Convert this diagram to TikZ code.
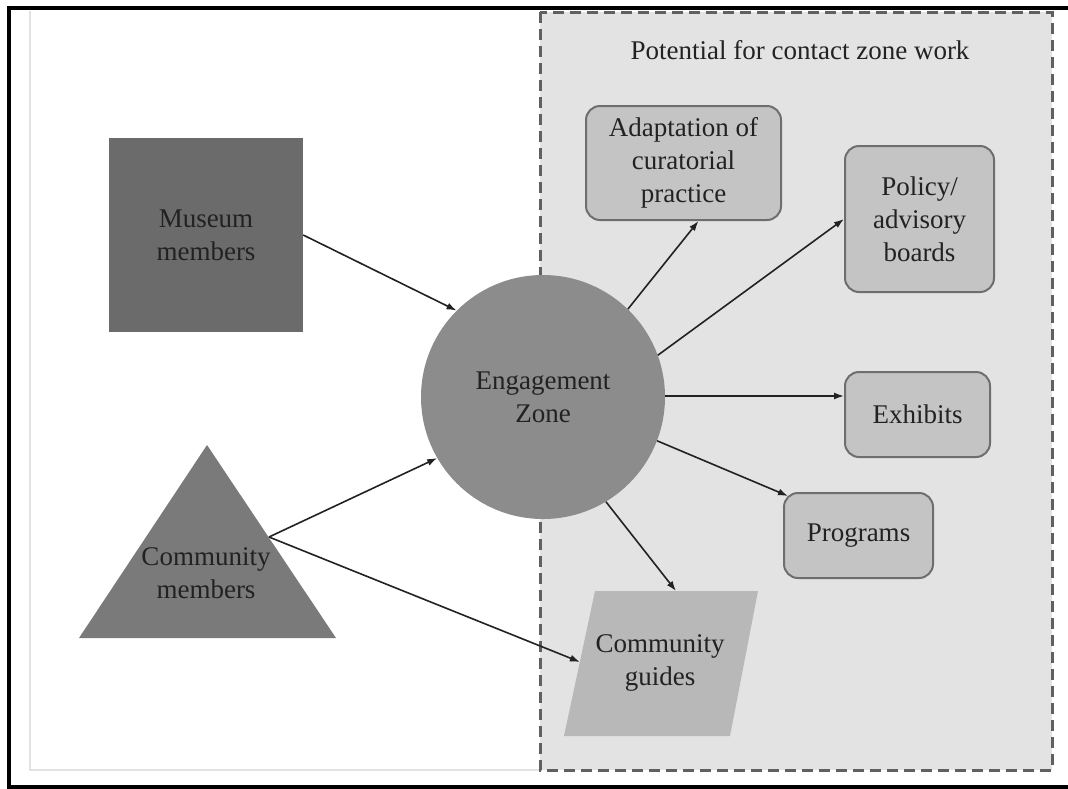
\documentclass[tikz,border=0pt]{standalone}
\usepackage{fontspec}
\setmainfont{Liberation Serif}
\usetikzlibrary{arrows.meta,calc}
\definecolor{txt}{HTML}{222222}
\definecolor{musfill}{HTML}{6B6B6B}
\definecolor{trifill}{HTML}{7A7A7A}
\definecolor{ezfill}{HTML}{8C8C8C}
\definecolor{boxfill}{HTML}{C4C4C4}
\definecolor{boxline}{HTML}{6E6E6E}
\definecolor{guidefill}{HTML}{B8B8B8}
\definecolor{zonefill}{HTML}{E3E3E3}
\definecolor{zoneline}{HTML}{606060}
\definecolor{faint}{HTML}{E2E2E2}
\begin{document}
\begin{tikzpicture}[x=1pt,y=-1pt,
  lbl/.style={align=center,text=txt,font=\fontsize{27}{33}\selectfont,inner sep=0pt},
  outbox/.style={lbl,draw=boxline,line width=2pt,fill=boxfill,rounded corners=14pt},
  conn/.style={draw=txt,line width=1.6pt,-{Latex[length=10pt,width=7pt]}}]
\useasboundingbox (0,0) rectangle (1068,788);
\fill[white] (0,0) rectangle (1068,788);
% faint inner frame
\draw[faint,line width=2.5pt] (30,11) -- (30,770) -- (540,770);
% contact zone area
\draw[zoneline,fill=zonefill,line width=3pt,dash pattern=on 11pt off 6pt] (540,12) rectangle (1052,770);
\node[lbl] (title) at (800,50) {Potential for contact zone work};
% outer black frame
\draw[black,line width=4.5pt] (1075,8) -- (9,8) -- (9,787) -- (1075,787);
% left shapes
\node[lbl,fill=musfill,minimum width=194pt,minimum height=194pt] (mus) at (206,235) {Museum\\members};
\fill[trifill] (79,638) -- (207,445) -- (336,638) -- cycle;
\node[lbl] (com) at (206,573.5) {Community\\members};
\coordinate (comR) at (269,537);
% centre
\node[lbl,circle,fill=ezfill,minimum size=244pt] (ez) at (543,397) {Engagement\\Zone};
% outputs
\node[outbox,minimum width=195pt,minimum height=114pt] (adapt) at (683.5,163) {Adaptation of\\curatorial\\practice};
\node[outbox,minimum width=149pt,minimum height=146pt] (pol) at (919.5,219) {Policy/\\advisory\\boards};
\node[outbox,minimum width=145pt,minimum height=85pt] (exh) at (917.5,414.5) {Exhibits};
\node[outbox,minimum width=149pt,minimum height=85pt] (prog) at (858.5,535.5) {Programs};
\fill[guidefill] (595,591) -- (758,591) -- (730,736) -- (564,736) -- cycle;
\node[lbl] (guide) at (660,663) {Community\\guides};
\coordinate (guideTop) at (676,591);
\coordinate (guideLeft) at (580,662);
% connectors
\draw[conn] (mus.east) -- (ez.135);
\draw[conn] (comR) -- (ez.210);
\draw[conn] (comR) -- (guideLeft);
\draw[conn] (ez.46) -- ($(adapt.south)+(15,0)$);
\draw[conn] (ez.20) -- (pol.west);
\draw[conn] (ez.east |- 0,396) -- (exh.west |- 0,396);
\draw[conn] (ez.-21) -- ($(prog.north west)+(5,4)$);
\draw[conn] (ez.-59) -- (guideTop);
\end{tikzpicture}
\end{document}
